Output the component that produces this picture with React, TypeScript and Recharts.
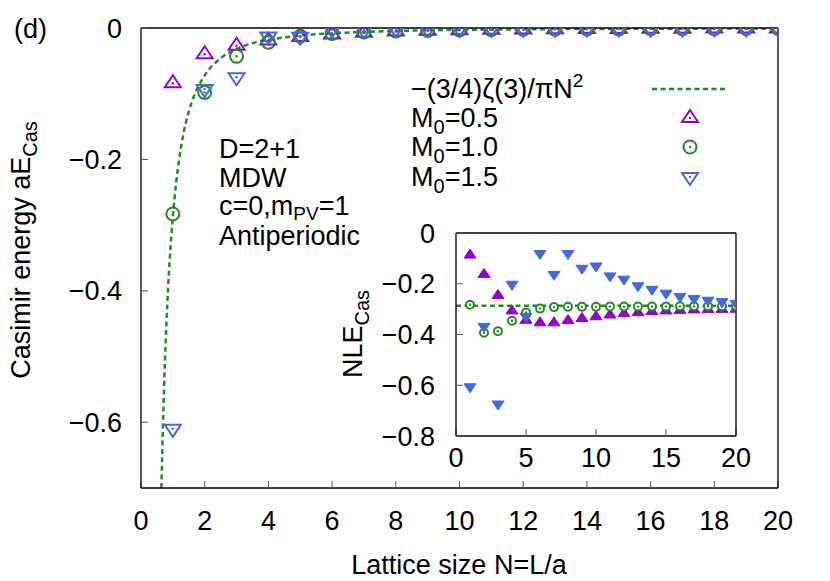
import { ComposedChart, Line, Scatter, XAxis, YAxis } from 'recharts';

// lattice sizes
const sizes = [1, 2, 3, 4, 5, 6, 7, 8, 9, 10, 11, 12, 13, 14, 15, 16, 17, 18, 19, 20];

// main panel: Casimir energy aE_Cas
const mainM05 = [-0.084, -0.040, -0.027, -0.019, -0.0136, -0.0098, -0.0072, -0.0053, -0.0041, -0.0033, -0.0026, -0.0022, -0.0018, -0.0016, -0.0014, -0.0012, -0.0010, -0.0009, -0.0008, -0.0007];
const mainM10 = [-0.283, -0.098, -0.043, -0.0216, -0.0125, -0.0083, -0.0060, -0.0045, -0.0036, -0.0029, -0.0024, -0.0020, -0.0017, -0.0015, -0.0013, -0.0011, -0.0010, -0.0009, -0.0008, -0.0007];
const mainM15 = [-0.610, -0.093, -0.075, -0.0129, -0.0133, -0.0024, -0.0034, -0.0013, -0.0018, -0.0013, -0.0014, -0.0013, -0.0013, -0.0012, -0.0011, -0.0010, -0.0009, -0.0008, -0.0008, -0.0007];

// continuum curve -(3/4)zeta(3)/(pi N^2)
const curveN = [0.64, 0.7, 0.8, 0.9, 1.0, 1.1, 1.2, 1.4, 1.6, 1.8, 2.0, 2.5, 3, 3.5, 4, 5, 6, 7, 8, 10, 12, 15, 20];
const curveE = [-0.70, -0.586, -0.448, -0.354, -0.287, -0.237, -0.199, -0.146, -0.112, -0.089, -0.072, -0.046, -0.032, -0.023, -0.018, -0.0115, -0.008, -0.0059, -0.0045, -0.0029, -0.002, -0.0013, -0.0007];

// inset: NLE_Cas
const insetM05 = [-0.087, -0.163, -0.246, -0.307, -0.344, -0.354, -0.354, -0.345, -0.337, -0.330, -0.323, -0.318, -0.314, -0.310, -0.307, -0.305, -0.303, -0.302, -0.301, -0.300];
const insetM10 = [-0.283, -0.393, -0.387, -0.346, -0.313, -0.298, -0.292, -0.291, -0.291, -0.291, -0.290, -0.290, -0.290, -0.290, -0.290, -0.289, -0.289, -0.289, -0.289, -0.289];
const insetM15 = [-0.606, -0.368, -0.674, -0.202, -0.329, -0.081, -0.163, -0.081, -0.139, -0.130, -0.169, -0.182, -0.208, -0.222, -0.237, -0.250, -0.258, -0.265, -0.270, -0.277];
const insetLineN = [0, 20];
const insetLineV = [-0.287, -0.287];

const mainTicksX = [0, 2, 4, 6, 8, 10, 12, 14, 16, 18, 20];
const mainTicksY = [0, -0.2, -0.4, -0.6];
const insetTicksX = [0, 5, 10, 15, 20];
const insetTicksY = [0, -0.2, -0.4, -0.6, -0.8];

const PURPLE = '#9400d3';
const GREEN = '#228b22';
const BLUE = '#4169e1';
const FONT = '"Liberation Sans", Arial, sans-serif';

const pts = (xs: number[], ys: number[]) => xs.map((n, i) => ({ n, v: ys[i] }));

const fmt = (v: number) => (v === 0 ? '0' : '\u2212' + Math.abs(v).toFixed(1));

function TriUp({ cx, cy, s = 8, color, filled = false }: any) {
  const d = `M${cx},${cy - s} L${cx - s},${cy + s / 2} L${cx + s},${cy + s / 2} Z`;
  return (
    <g>
      <path d={d} fill={filled ? color : 'none'} stroke={color} strokeWidth={filled ? 1 : 2} strokeLinejoin="miter" />
      {!filled && <circle cx={cx} cy={cy} r={1.2} fill={color} />}
    </g>
  );
}

function TriDown({ cx, cy, s = 8, color, filled = false }: any) {
  const d = `M${cx},${cy + s} L${cx - s},${cy - s / 2} L${cx + s},${cy - s / 2} Z`;
  return (
    <g>
      <path d={d} fill={filled ? color : 'none'} stroke={color} strokeWidth={filled ? 1 : 2} strokeLinejoin="miter" />
      {!filled && <circle cx={cx} cy={cy} r={1.2} fill={color} />}
    </g>
  );
}

function Ring({ cx, cy, r = 6.5, color, fill = 'none' }: any) {
  return (
    <g>
      <circle cx={cx} cy={cy} r={r} fill={fill} stroke={color} strokeWidth={2} />
      <circle cx={cx} cy={cy} r={1.2} fill={color} />
    </g>
  );
}

const axisLine = { stroke: '#000', strokeWidth: 1.3 };
const tickLine = { stroke: '#555', strokeWidth: 1 };
const tickFont = { fontSize: 27, fill: '#000', fontFamily: FONT };

// four axes drawing the box with inward ticks; each axis is 1px thick
function Frame({ ticksX, ticksY, domY, xMargin, yMargin }: any) {
  return [
    <XAxis key="xb" xAxisId="0" dataKey="n" type="number" domain={[0, 20]} ticks={ticksX} allowDataOverflow
      height={1} tickSize={-7} tickMargin={xMargin} axisLine={axisLine} tickLine={tickLine} tick={tickFont} interval={0} />,
    <XAxis key="xt" xAxisId="top" orientation="top" type="number" domain={[0, 20]} ticks={ticksX} allowDataOverflow
      height={1} tickSize={-7} axisLine={axisLine} tickLine={tickLine} tick={false} interval={0} />,
    <YAxis key="yl" yAxisId="0" dataKey="v" type="number" domain={domY} ticks={ticksY} allowDataOverflow
      width={1} tickSize={-7} tickMargin={yMargin} axisLine={axisLine} tickLine={tickLine} tick={tickFont}
      tickFormatter={fmt} interval={0} />,
    <YAxis key="yr" yAxisId="right" orientation="right" type="number" domain={domY} ticks={ticksY} allowDataOverflow
      width={1} tickSize={-7} axisLine={axisLine} tickLine={tickLine} tick={false} interval={0} />,
  ];
}

export default function App() {
  return (
    <div style={{ position: 'absolute', left: 0, top: 0, width: 830, height: 581, background: '#fff', fontFamily: FONT }}>
      <div style={{ position: 'absolute', left: 0, top: 0 }}>
        <ComposedChart width={830} height={581} margin={{ top: 27, right: 51, bottom: 92, left: 140 }}>
          {Frame({ ticksX: mainTicksX, ticksY: mainTicksY, domY: [-0.7, 0], xMargin: 30, yMargin: 26 })}
          <Line data={pts(curveN, curveE)} dataKey="v" type="monotone" stroke={GREEN} strokeWidth={2.5}
            strokeDasharray="5 3.5" dot={false} isAnimationActive={false} />
          <Scatter data={pts(sizes, mainM05)} dataKey="v" isAnimationActive={false}
            shape={(p: any) => <TriUp cx={p.cx} cy={p.cy} color={PURPLE} />} />
          <Scatter data={pts(sizes, mainM10)} dataKey="v" isAnimationActive={false}
            shape={(p: any) => <Ring cx={p.cx} cy={p.cy} color={GREEN} />} />
          <Scatter data={pts(sizes, mainM15)} dataKey="v" isAnimationActive={false}
            shape={(p: any) => <TriDown cx={p.cx} cy={p.cy} color={BLUE} />} />
        </ComposedChart>
      </div>
      <div style={{ position: 'absolute', left: 0, top: 0 }}>
        <ComposedChart width={830} height={581} margin={{ top: 232, right: 93, bottom: 144, left: 455 }}>
          {Frame({ ticksX: insetTicksX, ticksY: insetTicksY, domY: [-0.8, 0], xMargin: 19, yMargin: 28 })}
          <Line data={pts(insetLineN, insetLineV)} dataKey="v" type="linear" stroke={GREEN} strokeWidth={2.5}
            strokeDasharray="5 3.5" dot={false} isAnimationActive={false} />
          <Scatter data={pts(sizes, insetM05)} dataKey="v" isAnimationActive={false}
            shape={(p: any) => <TriUp cx={p.cx} cy={p.cy} s={6} color={PURPLE} filled />} />
          <Scatter data={pts(sizes, insetM10)} dataKey="v" isAnimationActive={false}
            shape={(p: any) => <Ring cx={p.cx} cy={p.cy} r={4} color={GREEN} fill="#fff" />} />
          <Scatter data={pts(sizes, insetM15)} dataKey="v" isAnimationActive={false}
            shape={(p: any) => <TriDown cx={p.cx} cy={p.cy} s={6} color={BLUE} filled />} />
        </ComposedChart>
      </div>
      <svg width={830} height={581} style={{ position: 'absolute', left: 0, top: 0, pointerEvents: 'none' }}>
        <g fontSize={27} fill="#000" fontFamily={FONT}>
          <text x={14} y={38}>(d)</text>
          <text transform="translate(30,250) rotate(-90)" textAnchor="middle">
            Casimir energy aE<tspan dy={7} fontSize={20}>Cas</tspan>
          </text>
          <text x={459} y={574} textAnchor="middle">Lattice size N=L/a</text>
          <text transform="translate(362,334) rotate(-90)" textAnchor="middle">
            NLE<tspan dy={7} fontSize={20}>Cas</tspan>
          </text>

          <text x={219} y={158}>D=2+1</text>
          <text x={219} y={187}>MDW</text>
          <text x={219} y={215}>
            c=0,m<tspan dy={5} fontSize={19}>PV</tspan><tspan dy={-5}>=1</tspan>
          </text>
          <text x={219} y={245}>Antiperiodic</text>

          <text x={411} y={98}>
            {'\u2212(3/4)\u03b6(3)/\u03c0N'}<tspan dy={-11} fontSize={19}>2</tspan>
          </text>
          <text x={411} y={127}>
            M<tspan dy={7} fontSize={20}>0</tspan><tspan dy={-7}>=0.5</tspan>
          </text>
          <text x={411} y={156}>
            M<tspan dy={7} fontSize={20}>0</tspan><tspan dy={-7}>=1.0</tspan>
          </text>
          <text x={411} y={186}>
            M<tspan dy={7} fontSize={20}>0</tspan><tspan dy={-7}>=1.5</tspan>
          </text>
        </g>
        <line x1={652} x2={728} y1={89} y2={89} stroke={GREEN} strokeWidth={2.5} strokeDasharray="5 3.5" />
        <TriUp cx={690} cy={118} color={PURPLE} />
        <Ring cx={690} cy={147} color={GREEN} />
        <TriDown cx={690} cy={177} color={BLUE} />
      </svg>
    </div>
  );
}
